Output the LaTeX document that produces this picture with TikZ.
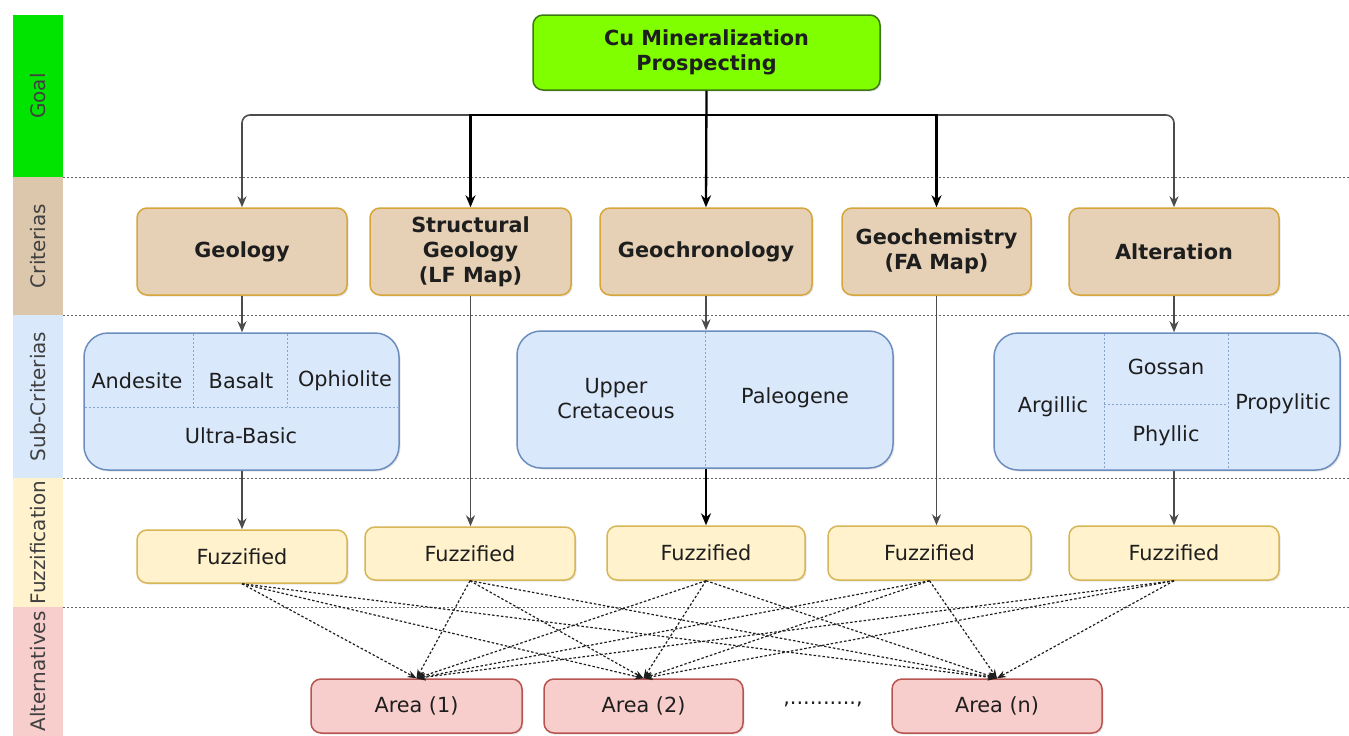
\documentclass[tikz,border=0pt]{standalone}
\usepackage{fontspec}
\setmainfont{DejaVu Sans}
\usetikzlibrary{arrows.meta,shadows}

\definecolor{goalfill}{RGB}{128,255,0}
\definecolor{goalline}{RGB}{60,120,20}
\definecolor{goalbar}{RGB}{0,228,0}
\definecolor{critfill}{RGB}{230,209,182}
\definecolor{critline}{RGB}{214,165,60}
\definecolor{critbar}{RGB}{220,199,172}
\definecolor{subfill}{RGB}{218,232,252}
\definecolor{subline}{RGB}{108,142,191}
\definecolor{fuzfill}{RGB}{255,242,204}
\definecolor{fuzline}{RGB}{214,182,86}
\definecolor{altfill}{RGB}{248,206,204}
\definecolor{altline}{RGB}{184,84,80}
\definecolor{ink}{RGB}{30,30,30}

\tikzset{
	box/.style={rounded corners=10pt, draw, line width=1.5pt, align=center, inner sep=0pt, text=ink,
		drop shadow={shadow xshift=1.5pt, shadow yshift=-1.5pt, opacity=0.2}},
	boldtext/.style={font=\fontsize{20.8}{25}\selectfont\bfseries},
	plaintext/.style={font=\fontsize{20.8}{25}\selectfont, text=ink},
	band/.style={fill, rotate=90, minimum height=50, inner sep=0pt, text=ink!85, font=\fontsize{20}{22}\selectfont},
	thinarr/.style={gray!60!black, line width=1.6pt, -{Stealth[length=11pt,width=9pt]}},
	thickarr/.style={black, line width=2.3pt, -{Stealth[length=12pt,width=10pt]}}
}

\begin{document}
\begin{tikzpicture}[x=1pt,y=-1pt]
	\useasboundingbox (0,0) rectangle (1349,736);

	% level bands on the left
	\node[band, fill=goalbar, minimum width=162] (bgoal) at (38,96) {Goal};
	\node[band, fill=critbar, minimum width=138] (bcrit) at (38,246) {Criterias};
	\node[band, fill=subfill, minimum width=163] (bsub) at (38,396.5) {Sub-Criterias};
	\node[band, fill=fuzfill, minimum width=129] (bfuz) at (38,542.5) {Fuzzification};
	\node[band, fill=altfill, minimum width=129] (balt) at (38,671.5) {Alternatives};
	\foreach \y in {177,315,478,607}
		\draw[gray!80!black, line width=1pt, dash pattern=on 2pt off 2pt] (63,\y) -- (1349,\y);

	% goal
	\node[box, boldtext, fill=goalfill, draw=goalline, minimum width=347, minimum height=75] (goal) at (706.5,52.5) {Cu Mineralization\\Prospecting};
	\coordinate (bus) at (706.5,115);

	% criterias
	\node[box, boldtext, fill=critfill, draw=critline, minimum width=210, minimum height=87] (geo) at (242,251.5) {Geology};
	\node[box, boldtext, fill=critfill, draw=critline, minimum width=201, minimum height=87] (struc) at (470.5,251.5) {Structural\\Geology\\(LF Map)};
	\node[box, boldtext, fill=critfill, draw=critline, minimum width=212, minimum height=87] (chron) at (706,251.5) {Geochronology};
	\node[box, boldtext, fill=critfill, draw=critline, minimum width=189, minimum height=87] (chem) at (936.5,251.5) {Geochemistry\\(FA Map)};
	\node[box, boldtext, fill=critfill, draw=critline, minimum width=210, minimum height=87] (alter) at (1174,251.5) {Alteration};

	% sub-criterias
	\node[box, rounded corners=24pt, fill=subfill, draw=subline, minimum width=315, minimum height=137] (geosub) at (241.5,401.5) {};
	\node[box, rounded corners=24pt, fill=subfill, draw=subline, minimum width=376, minimum height=137] (chronsub) at (705,399.5) {};
	\node[box, rounded corners=24pt, fill=subfill, draw=subline, minimum width=346, minimum height=137] (altsub) at (1167,401.5) {};
	\begin{scope}[subline!80, line width=0.8pt, dash pattern=on 2pt off 2pt]
		\draw (193,334) -- (193,407);
		\draw (287,334) -- (287,407);
		\draw (85,407) -- (398,407);
		\draw (705,332) -- (705,467);
		\draw (1104,334) -- (1104,469);
		\draw (1228,334) -- (1228,469);
		\draw (1104,404) -- (1228,404);
	\end{scope}
	\node[plaintext] (andes) at (137,381) {Andesite};
	\node[plaintext] (basalt) at (241,381) {Basalt};
	\node[plaintext] (ophio) at (345,381) {Ophiolite};
	\node[plaintext] (ultra) at (241,436) {Ultra-Basic};
	\node[plaintext, align=center] (cret) at (616,399) {Upper\\Cretaceous};
	\node[plaintext] (paleo) at (795,398) {Paleogene};
	\node[plaintext] (argil) at (1053,407) {Argillic};
	\node[plaintext] (gossan) at (1166,367) {Gossan};
	\node[plaintext] (phyl) at (1166,436) {Phyllic};
	\node[plaintext] (propy) at (1283,404) {Propylitic};

	% fuzzification
	\node[box, plaintext, fill=fuzfill, draw=fuzline, minimum width=210, minimum height=53] (f1) at (242,556.5) {Fuzzified};
	\node[box, plaintext, fill=fuzfill, draw=fuzline, minimum width=210, minimum height=53] (f2) at (470,553.5) {Fuzzified};
	\node[box, plaintext, fill=fuzfill, draw=fuzline, minimum width=198, minimum height=54] (f3) at (706,553) {Fuzzified};
	\node[box, plaintext, fill=fuzfill, draw=fuzline, minimum width=203, minimum height=54] (f4) at (929.5,553) {Fuzzified};
	\node[box, plaintext, fill=fuzfill, draw=fuzline, minimum width=210, minimum height=54] (f5) at (1174,553) {Fuzzified};

	% alternatives
	\node[box, plaintext, fill=altfill, draw=altline, minimum width=211, minimum height=54] (a1) at (416.5,706) {Area (1)};
	\node[box, plaintext, fill=altfill, draw=altline, minimum width=199, minimum height=54] (a2) at (643.5,706) {Area (2)};
	\node[box, plaintext, fill=altfill, draw=altline, minimum width=210, minimum height=54] (an) at (997,706) {Area (n)};
	\node[plaintext] (dots) at (823,704) {,..........,};

	% goal to criterias
	\draw[thickarr] (goal.south) -- (chron.north);
	\draw[thinarr, rounded corners=8pt] (bus) -| (geo.north);
	\draw[thinarr, rounded corners=8pt] (bus) -| (alter.north);
	\draw[thickarr] (bus) -| (struc.north);
	\draw[thickarr] (bus) -| (chem.north);

	% criterias down to fuzzification
	\draw[thinarr] (geo.south) -- (geo.south |- geosub.north);
	\draw[thinarr] (geo.south |- geosub.south) -- (geo.south |- f1.north);
	\draw[thinarr] (struc.south) -- (struc.south |- f2.north);
	\draw[thinarr] (chron.south) -- (chron.south |- chronsub.north);
	\draw[thickarr] (chron.south |- chronsub.south) -- (chron.south |- f3.north);
	\draw[thinarr] (chem.south) -- (chem.south |- f4.north);
	\draw[thinarr] (alter.south) -- (alter.south |- altsub.north);
	\draw[thinarr] (alter.south |- altsub.south) -- (alter.south |- f5.north);

	% fuzzified layers to every area
	\foreach \f in {f1,f2,f3,f4,f5}
		\foreach \a in {a1,a2,an}
			\draw[ink, line width=1.2pt, dash pattern=on 2.5pt off 2pt, -{Stealth[length=9pt,width=7pt]}] (\f.south) -- (\a.north);
\end{tikzpicture}
\end{document}
